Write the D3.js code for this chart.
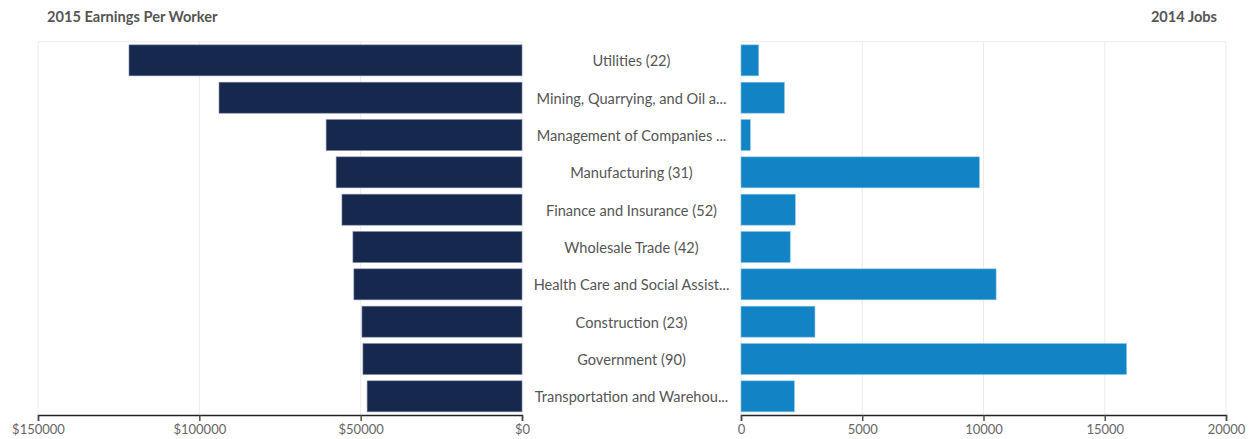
<!DOCTYPE html>
<html>
<head>
<meta charset="utf-8">
<script src="https://cdn.jsdelivr.net/npm/d3@7"></script>
<style>
  body { margin: 0; background: #fff; font-family: Lato, "Open Sans", sans-serif; }
  svg text { font-family: Lato, "Open Sans", sans-serif; }
</style>
</head>
<body>
<svg id="chart" width="1253" height="439"></svg>
<script>
// industries, top to bottom
const categories = [
  "Utilities (22)",
  "Mining, Quarrying, and Oil a...",
  "Management of Companies ...",
  "Manufacturing (31)",
  "Finance and Insurance (52)",
  "Wholesale Trade (42)",
  "Health Care and Social Assist...",
  "Construction (23)",
  "Government (90)",
  "Transportation and Warehou..."
];
const earnings = [121800, 93900, 60700, 57600, 55800, 52400, 52100, 49600, 49300, 48000];
const jobs = [730, 1790, 385, 9830, 2240, 2030, 10520, 3050, 15900, 2200];

const earningsTicks = [150000, 100000, 50000, 0];
const jobsTicks = [0, 5000, 10000, 15000, 20000];

const leftTitle = "2015 Earnings Per Worker";
const rightTitle = "2014 Jobs";

const plotTop = 41.7, plotBottom = 415;

const svg = d3.select("#chart");

const y = d3.scaleBand()
  .domain(categories)
  .range([plotTop, plotBottom])
  .paddingInner(0.17)
  .paddingOuter(0.085);

const xl = d3.scaleLinear().domain([150000, 0]).range([38, 522]);
const xr = d3.scaleLinear().domain([0, 20000]).range([741, 1226]);

// light frame + gridlines
function grid(x, ticks) {
  const g = svg.append("g");
  g.selectAll("line.v")
    .data(ticks)
    .join("line")
    .attr("x1", d => x(d)).attr("x2", d => x(d))
    .attr("y1", plotTop).attr("y2", plotBottom)
    .attr("stroke", "#ececec").attr("stroke-width", 1);
  g.append("line")
    .attr("x1", x.range()[0]).attr("x2", x.range()[1])
    .attr("y1", plotTop).attr("y2", plotTop)
    .attr("stroke", "#ececec");
}
grid(xl, earningsTicks);
grid(xr, jobsTicks);

// left bars
svg.append("g")
  .selectAll("rect")
  .data(categories)
  .join("rect")
  .attr("x", (d, i) => xl(earnings[i]))
  .attr("y", d => y(d))
  .attr("width", (d, i) => xl(0) - xl(earnings[i]))
  .attr("height", y.bandwidth())
  .attr("fill", "#17284f")
  .attr("stroke", "#7d8aa3")
  .attr("stroke-width", 0.6);

// right bars
svg.append("g")
  .selectAll("rect")
  .data(categories)
  .join("rect")
  .attr("x", xr(0))
  .attr("y", d => y(d))
  .attr("width", (d, i) => xr(jobs[i]) - xr(0))
  .attr("height", y.bandwidth())
  .attr("fill", "#1284c5")
  .attr("stroke", "#8cc4e6")
  .attr("stroke-width", 0.6);

// center labels
svg.append("g")
  .selectAll("text")
  .data(categories)
  .join("text")
  .attr("x", (xl(0) + xr(0)) / 2)
  .attr("y", d => y(d) + y.bandwidth() / 2)
  .attr("dy", "0.4em")
  .attr("text-anchor", "middle")
  .attr("font-size", 14.6)
  .attr("fill", "#555")
  .text(d => d);

// axes
function styleAxis(g) {
  g.select(".domain").attr("stroke", "#222").attr("stroke-width", 1.4);
  g.selectAll(".tick line").attr("stroke", "#444").attr("stroke-width", 1.4);
  g.selectAll(".tick text").attr("font-size", 13).attr("fill", "#666")
    .attr("font-family", "Lato, 'Open Sans', sans-serif").attr("dy", "0.8em");
}

svg.append("g")
  .attr("transform", `translate(0,${plotBottom})`)
  .call(d3.axisBottom(xl).tickValues(earningsTicks).tickFormat(d => "$" + d).tickSize(6))
  .call(styleAxis);

svg.append("g")
  .attr("transform", `translate(0,${plotBottom})`)
  .call(d3.axisBottom(xr).tickValues(jobsTicks).tickFormat(d => String(d)).tickSize(6))
  .call(styleAxis);

// titles
svg.append("text")
  .attr("x", 47).attr("y", 22)
  .attr("font-size", 14.6).attr("font-weight", "bold").attr("fill", "#555")
  .text(leftTitle);

svg.append("text")
  .attr("x", 1217).attr("y", 22)
  .attr("text-anchor", "end")
  .attr("font-size", 14.6).attr("font-weight", "bold").attr("fill", "#555")
  .text(rightTitle);
</script>
</body>
</html>
